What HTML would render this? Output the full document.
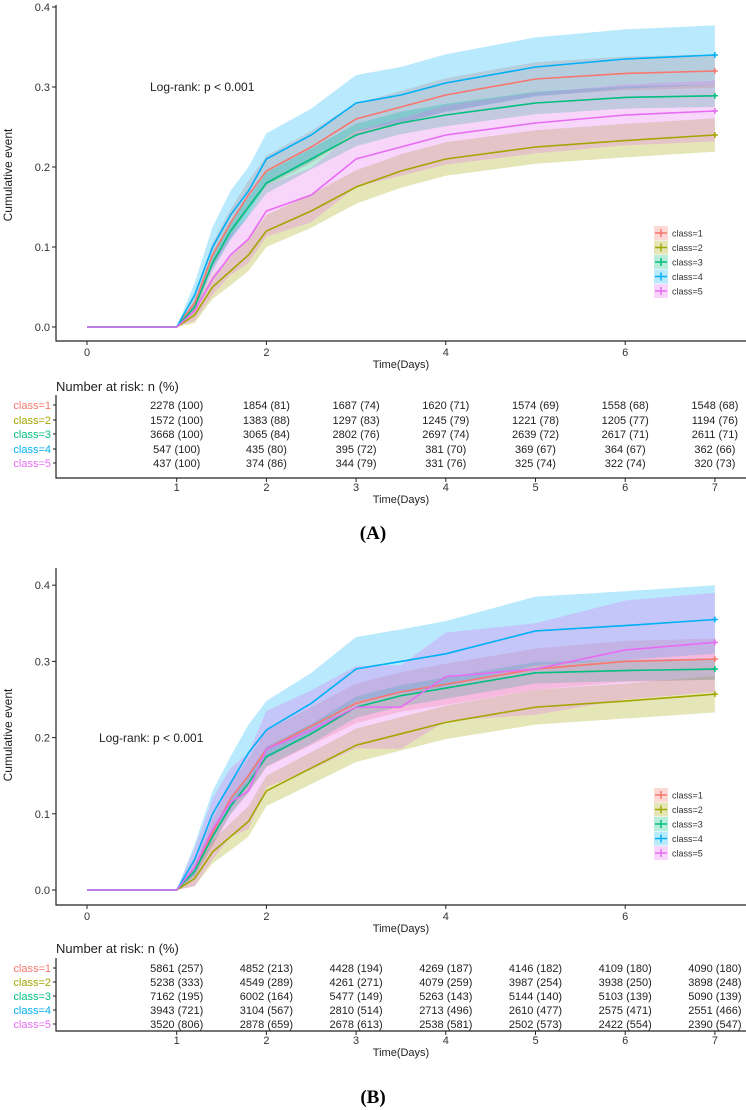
<!DOCTYPE html>
<html><head><meta charset="utf-8"><style>
html,body{margin:0;padding:0;background:#fff;}
svg{display:block;font-family:"Liberation Sans",sans-serif;}
</style></head><body>
<svg id="c" width="746" height="1110" viewBox="0 0 746 1110" xmlns="http://www.w3.org/2000/svg"></svg>
<script>
const times = [1.0,1.2,1.4,1.6,1.8,2.0,2.5,3.0,3.5,4.0,5.0,6.0,7.0];
const classNames = ["class=1","class=2","class=3","class=4","class=5"];
const colors = ["#F8766D","#A3A500","#00BF7D","#00B0F6","#E76BF3"];
// Panel A estimates
const a1 = [0,0.03,0.09,0.13,0.165,0.195,0.225,0.26,0.275,0.29,0.31,0.317,0.32];
const a2 = [0,0.015,0.05,0.07,0.09,0.12,0.145,0.175,0.195,0.21,0.225,0.233,0.24];
const a3 = [0,0.025,0.08,0.12,0.15,0.18,0.21,0.24,0.255,0.265,0.28,0.287,0.289];
const a4 = [0,0.04,0.10,0.14,0.17,0.21,0.24,0.28,0.29,0.305,0.325,0.335,0.34];
const a5 = [0,0.02,0.06,0.09,0.11,0.145,0.165,0.21,0.225,0.24,0.255,0.265,0.27];
// Panel A CI half widths
const ah1 = [0,0.01,0.015,0.017,0.018,0.019,0.02,0.02,0.02,0.021,0.021,0.021,0.021];
const ah2 = [0,0.01,0.015,0.018,0.02,0.02,0.021,0.021,0.021,0.021,0.021,0.021,0.021];
const ah3 = [0,0.007,0.01,0.011,0.012,0.013,0.013,0.014,0.014,0.014,0.014,0.014,0.014];
const ah4 = [0,0.015,0.025,0.03,0.03,0.032,0.033,0.035,0.035,0.036,0.037,0.037,0.037];
const ah5 = [0,0.012,0.02,0.025,0.03,0.032,0.034,0.035,0.036,0.037,0.038,0.038,0.038];
// Panel B estimates
const b1 = [0,0.03,0.075,0.12,0.15,0.185,0.215,0.245,0.26,0.27,0.29,0.30,0.303];
const b2 = [0,0.015,0.05,0.07,0.09,0.13,0.16,0.19,0.205,0.22,0.24,0.248,0.257];
const b3 = [0,0.025,0.07,0.11,0.14,0.175,0.205,0.24,0.255,0.265,0.285,0.288,0.29];
const b4 = [0,0.04,0.10,0.14,0.18,0.21,0.245,0.29,0.30,0.31,0.34,0.347,0.355];
const b5 = [0,0.03,0.08,0.115,0.13,0.185,0.21,0.24,0.24,0.28,0.29,0.315,0.325];
const bh1 = [0,0.012,0.018,0.02,0.022,0.024,0.025,0.026,0.026,0.027,0.027,0.027,0.027];
const bh2 = [0,0.01,0.015,0.018,0.02,0.02,0.021,0.022,0.022,0.022,0.023,0.023,0.024];
const bh3 = [0,0.007,0.01,0.011,0.012,0.013,0.013,0.014,0.014,0.014,0.014,0.014,0.014];
const bh4 = [0,0.02,0.03,0.035,0.037,0.038,0.04,0.042,0.042,0.043,0.045,0.045,0.045];
const bh5 = [0,0.025,0.04,0.045,0.05,0.05,0.052,0.054,0.055,0.058,0.06,0.065,0.065];
const yTicks = [0,0.1,0.2,0.3,0.4];
const xTicks = [0,2,4,6];
const riskDays = [1,2,3,4,5,6,7];
const riskA1 = ["2278 (100)","1854 (81)","1687 (74)","1620 (71)","1574 (69)","1558 (68)","1548 (68)"];
const riskA2 = ["1572 (100)","1383 (88)","1297 (83)","1245 (79)","1221 (78)","1205 (77)","1194 (76)"];
const riskA3 = ["3668 (100)","3065 (84)","2802 (76)","2697 (74)","2639 (72)","2617 (71)","2611 (71)"];
const riskA4 = ["547 (100)","435 (80)","395 (72)","381 (70)","369 (67)","364 (67)","362 (66)"];
const riskA5 = ["437 (100)","374 (86)","344 (79)","331 (76)","325 (74)","322 (74)","320 (73)"];
const riskB1 = ["5861 (257)","4852 (213)","4428 (194)","4269 (187)","4146 (182)","4109 (180)","4090 (180)"];
const riskB2 = ["5238 (333)","4549 (289)","4261 (271)","4079 (259)","3987 (254)","3938 (250)","3898 (248)"];
const riskB3 = ["7162 (195)","6002 (164)","5477 (149)","5263 (143)","5144 (140)","5103 (139)","5090 (139)"];
const riskB4 = ["3943 (721)","3104 (567)","2810 (514)","2713 (496)","2610 (477)","2575 (471)","2551 (466)"];
const riskB5 = ["3520 (806)","2878 (659)","2678 (613)","2538 (581)","2502 (573)","2422 (554)","2390 (547)"];

const svg = document.getElementById('c');
const NS = "http://www.w3.org/2000/svg";
function mk(tag, attrs, parent){const e=document.createElementNS(NS,tag);for(const k in attrs)e.setAttribute(k,attrs[k]);(parent||svg).appendChild(e);return e;}
function txt(x,y,s,size,anchor,fill,parent){const t=mk('text',{x:x,y:y,'font-size':size,'text-anchor':anchor||'start',fill:fill||'#222'},parent);t.textContent=s;return t;}
const xs = d => 87 + 89.7*d;

function panel(cfg){
  const g = mk('g',{});
  
  
  const ys = v => cfg.y0 - v*cfg.k;
  // bands
  cfg.est.forEach((est,i)=>{
    let up=[],lo=[];
    times.forEach((t,j)=>{up.push(xs(t)+','+ys(est[j]+cfg.half[i][j]));lo.unshift(xs(t)+','+ys(Math.max(0,est[j]-cfg.half[i][j])));});
    const p = mk('polygon',{points:up.concat(lo).join(' '),fill:colors[i],'fill-opacity':0.28,stroke:'none'},g);
    
    
  });
  // lines
  cfg.est.forEach((est,i)=>{
    let pts=[xs(0)+','+ys(0)];
    times.forEach((t,j)=>pts.push(xs(t)+','+ys(est[j])));
    const l = mk('polyline',{points:pts.join(' '),fill:'none',stroke:colors[i],'stroke-width':1.6},g);
    
    
    const e = est[est.length-1];
    mk('path',{d:`M${xs(7)-3},${ys(e)}h6M${xs(7)},${ys(e)-3}v6`,stroke:colors[i],'stroke-width':1.5},g);
  });
  // axes
  const ax = mk('path',{d:`M56,${cfg.top}V${cfg.xaxis}H746`,stroke:'#222',fill:'none','stroke-width':1.2},g);
  
  
  yTicks.forEach(v=>{mk('path',{d:`M52,${ys(v)}H56`,stroke:'#222'},g);txt(50,ys(v)+4,v.toFixed(1),11,'end','#333',g);});
  xTicks.forEach(v=>{mk('path',{d:`M${xs(v)},${cfg.xaxis}v4`,stroke:'#222'},g);txt(xs(v),cfg.xaxis+15,String(v),11,'middle','#333',g);});
  const xt = txt(401,cfg.xaxis+27,'Time(Days)',11,'middle','#222',g);
  
  
  const yt = txt(0,0,'Cumulative event',12,'middle','#222',g);
  yt.setAttribute('transform',`translate(12,${cfg.ymid}) rotate(-90)`);
  
  
  const lr = txt(cfg.lrx,cfg.lry,'Log-rank: p < 0.001',12,'start','#222',g);
  
  
  // legend
  classNames.forEach((n,i)=>{
    const y = cfg.legY + i*14.5;
    const lg = mk('g',{},g);
    
    
    mk('rect',{x:654,y:y-7,width:14,height:14,fill:colors[i],'fill-opacity':0.28},lg);
    mk('path',{d:`M655,${y}h12M661,${y-4}v8`,stroke:colors[i],'stroke-width':1.5},lg);
    txt(672,y+3.5,n,9,'start','#333',lg);
  });
  // risk table
  txt(56,cfg.nrY,'Number at risk: n (%)',13,'start','#222',g);
  const ta = mk('path',{d:`M56,${cfg.rows[0]-10}V${cfg.tAxis}H746`,stroke:'#222',fill:'none','stroke-width':1.2},g);
  
  
  cfg.risk.forEach((row,i)=>{
    const y = cfg.rows[i];
    txt(51,y+4,classNames[i],11,'end',colors[i],g);
    mk('path',{d:`M53,${y}H56`,stroke:'#222'},g);
    row.forEach((s,j)=>{const c=txt(xs(riskDays[j]),y+4,s,11,'middle','#222',g);
      
      });
  });
  riskDays.forEach(d=>{mk('path',{d:`M${xs(d)},${cfg.tAxis}v4`,stroke:'#222'},g);txt(xs(d),cfg.tAxis+13,String(d),11,'middle','#333',g);});
  txt(401,cfg.tAxis+25,'Time(Days)',11,'middle','#222',g);
  const lab = mk('text',{x:373,y:cfg.labY,'font-size':19,'font-weight':'bold','text-anchor':'middle','font-family':'Liberation Serif,serif',fill:'#000'},g);
  lab.textContent = cfg.label;
  
  
}
panel({name:'panel-a',y0:327,k:800,top:5,xaxis:341,ymid:175,lrx:150,lry:91,legY:233,
  est:[a1,a2,a3,a4,a5],half:[ah1,ah2,ah3,ah4,ah5],
  risk:[riskA1,riskA2,riskA3,riskA4,riskA5],nrY:391,rows:[405,420,434,449,463],tAxis:478,labY:539,label:'(A)'});
panel({name:'panel-b',y0:890,k:762,top:568,xaxis:905,ymid:735,lrx:99,lry:742,legY:795,
  est:[b1,b2,b3,b4,b5],half:[bh1,bh2,bh3,bh4,bh5],
  risk:[riskB1,riskB2,riskB3,riskB4,riskB5],nrY:953,rows:[968,982,996,1010,1024],tAxis:1031,labY:1103,label:'(B)'});
</script>
</body></html>
